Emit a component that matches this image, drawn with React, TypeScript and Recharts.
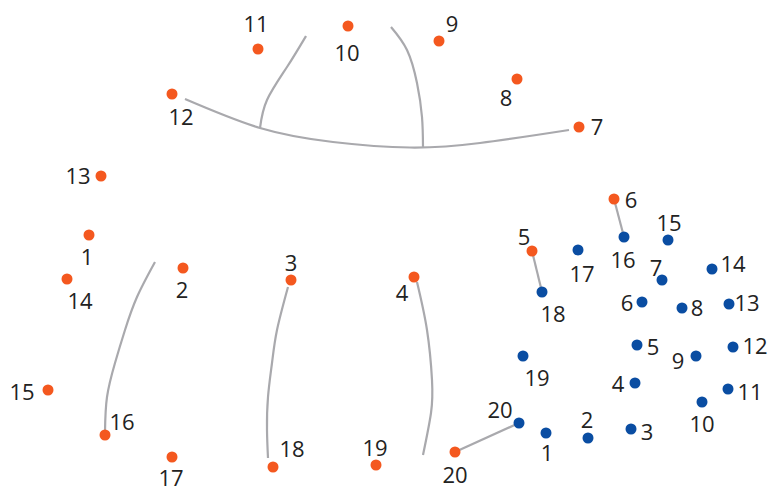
import React from 'react';
import { ScatterChart, Scatter, XAxis, YAxis } from 'recharts';

// Dot-to-dot puzzle: two numbered point series plus partially drawn guide curves.
const pointNumbers = [1, 2, 3, 4, 5, 6, 7, 8, 9, 10, 11, 12, 13, 14, 15, 16, 17, 18, 19, 20];

const orangeX = [8.9, 18.3, 29.1, 41.4, 53.2, 61.4, 57.9, 51.7, 43.9, 34.8, 25.8, 17.2, 10.1, 6.7, 4.8, 10.5, 17.2, 27.3, 37.6, 45.5];
const orangeY = [25.3, 22.0, 20.8, 21.1, 23.7, 28.9, 36.1, 40.9, 44.7, 46.2, 43.9, 39.4, 31.2, 20.9, 9.8, 5.3, 3.1, 2.1, 2.3, 3.6];

const blueX = [54.6, 58.8, 63.1, 63.5, 63.7, 64.2, 66.2, 68.2, 69.6, 70.2, 72.8, 73.3, 72.9, 71.2, 66.8, 62.4, 57.8, 54.2, 52.3, 51.9];
const blueY = [5.5, 5.0, 5.9, 10.5, 14.3, 18.6, 20.8, 18.0, 13.2, 8.6, 9.9, 14.1, 18.4, 21.9, 24.8, 25.1, 23.8, 19.6, 13.2, 6.5];

// Gray guide curves (x, y pairs in the same units)
const curveArc: [number, number][] = [[18.5, 38.9], [26.0, 36.0], [33.3, 34.6], [41.0, 34.05], [48.0, 34.5], [56.9, 35.8]];
const curveLeftBranch: [number, number][] = [[30.6, 45.2], [28.7, 42.1], [26.7, 38.8], [26.0, 36.0]];
const curveRightBranch: [number, number][] = [[39.1, 46.1], [40.7, 43.8], [41.7, 40.5], [42.2, 37.1], [42.3, 34.1]];
const curveLowerLeft: [number, number][] = [[15.5, 22.6], [13.7, 19.1], [12.5, 15.8], [11.5, 12.5], [10.7, 9.1], [10.5, 5.6]];
const curveLowerMid: [number, number][] = [[28.8, 20.1], [27.7, 15.8], [27.2, 12.5], [26.8, 9.1], [26.7, 5.8], [26.8, 3.0]];
const curveLowerRight: [number, number][] = [[41.7, 20.6], [42.7, 15.8], [43.2, 10.8], [43.1, 7.5], [42.3, 3.3]];
const linkO6B16: [number, number][] = [[61.4, 28.9], [62.4, 25.1]];
const linkO5B18: [number, number][] = [[53.2, 23.7], [54.2, 19.6]];
const linkO20B20: [number, number][] = [[45.5, 3.6], [51.9, 6.5]];

const curves = [curveArc, curveLeftBranch, curveRightBranch, curveLowerLeft, curveLowerMid, curveLowerRight, linkO6B16, linkO5B18, linkO20B20];

// Label placement (pixel offsets of each number's centre from its dot)
const orangeLabelOffsets: [number, number][] = [
  [-2, 21], [-1, 21], [0, -18], [-12, 15], [-8, -15], [17, 0], [18, -1], [-11, 18], [13, -18], [-1, 26],
  [-2, -26], [9, 22], [-23, -1], [13, 21], [-26, 1], [17, -14], [-1, 20], [19, -19], [-1, -18], [0, 22],
];
const blueLabelOffsets: [number, number][] = [
  [1, 19], [-1, -19], [16, 2], [-17, 0], [16, 1], [-15, 0], [-6, -13], [15, -1], [-18, 4], [0, 21],
  [22, 2], [22, -2], [18, -2], [21, -6], [1, -18], [-1, 22], [4, 23], [11, 21], [14, 21], [-19, -14],
];

const ORANGE = '#F4581F';
const BLUE = '#0A4DA2';
const GRAY = '#A9A9AD';
const TEXT = '#222222';

const orangeData = pointNumbers.map((n, i) => ({ n, x: orangeX[i], y: orangeY[i], i }));
const blueData = pointNumbers.map((n, i) => ({ n, x: blueX[i], y: blueY[i], i }));
const curveData = curves.map((c) => c.map(([x, y]) => ({ x, y })));

const makeShape = (color: string, offsets: [number, number][]) => (props: any) => {
  const { cx, cy, payload } = props;
  if (cx == null || cy == null) return <g />;
  const [dx, dy] = offsets[payload.i];
  return (
    <g>
      <circle cx={cx} cy={cy} r={5.5} fill={color} />
      <text
        x={cx + dx}
        y={cy + dy}
        textAnchor="middle"
        dominantBaseline="central"
        fontFamily="'Open Sans', sans-serif"
        fontSize={22}
        fill={TEXT}
      >
        {payload.n}
      </text>
    </g>
  );
};

const emptyShape = () => <g />;

export default function App() {
  return (
    <div style={{ position: 'absolute', left: 0, top: 0, width: 769, height: 488, background: '#fff' }}>
      <ScatterChart width={769} height={488} margin={{ top: 0, right: 0, bottom: 0, left: 0 }}>
        <XAxis type="number" dataKey="x" domain={[0, 76.9]} hide />
        <YAxis type="number" dataKey="y" domain={[0, 48.8]} hide />
        {curveData.map((d, k) => (
          <Scatter
            key={`c${k}`}
            data={d}
            line={{ stroke: GRAY, strokeWidth: 2.2, fill: 'none' }}
            lineJointType="natural"
            shape={emptyShape}
            isAnimationActive={false}
          />
        ))}
        <Scatter data={orangeData} shape={makeShape(ORANGE, orangeLabelOffsets)} isAnimationActive={false} />
        <Scatter data={blueData} shape={makeShape(BLUE, blueLabelOffsets)} isAnimationActive={false} />
      </ScatterChart>
    </div>
  );
}
